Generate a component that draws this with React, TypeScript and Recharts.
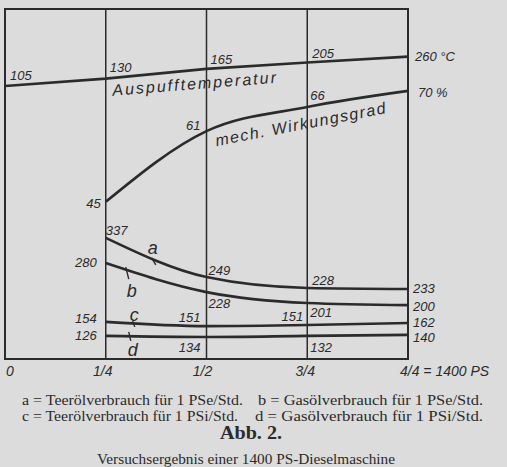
import React from "react";
import {
  ComposedChart,
  Line,
  XAxis,
  YAxis,
  CartesianGrid,
  ReferenceArea,
} from "recharts";

// Load fractions along the x axis (0 … full load = 1400 PS)
const loadSteps = [0, 0.25, 0.5, 0.75, 1];
const xTickLabels = ["0", "1/4", "1/2", "3/4", "4/4 = 1400 PS"];

// Curve heights as drawn in the diagram (schematic, 0 = bottom frame, 100 = top frame)
const tempHeight = [78.0, 80.1, 82.9, 84.7, 86.4];
const effHeight = [null, 44.9, 65.1, 72.0, 76.6];
const aHeight = [null, 34.6, 23.4, 20.3, 20.0];
const bHeight = [null, 27.4, 19.1, 16.0, 15.4];
const cHeight = [null, 10.6, 9.4, 9.7, 10.3];
const dHeight = [null, 6.6, 6.3, 6.6, 6.9];

// Values written next to the curves
const tempLabels = ["105", "130", "165", "205", "260 °C"];
const effLabels = [null, "45", "61", "66", "70 %"];
const aLabels = [null, "337", "249", "228", "233"];
const bLabels = [null, "280", "228", "201", "200"];
const cLabels = [null, "154", "151", "151", "162"];
const dLabels = [null, "126", "134", "132", "140"];

const seriesNames = {
  temp: "Auspufftemperatur",
  eff: "mech. Wirkungsgrad",
  a: "a",
  b: "b",
  c: "c",
  d: "d",
};

const captionLine1 = ["a = Teerölverbrauch für 1 PSe/Std.", "b = Gasölverbrauch für 1 PSe/Std."];
const captionLine2 = ["c = Teerölverbrauch für 1 PSi/Std.", "d = Gasölverbrauch für 1 PSi/Std."];
const figTitle = "Abb. 2.";
const figSubtitle = "Versuchsergebnis einer 1400 PS-Dieselmaschine";

const data = loadSteps.map((x, i) => ({
  x,
  temp: tempHeight[i],
  eff: effHeight[i],
  a: aHeight[i],
  b: bHeight[i],
  c: cHeight[i],
  d: dHeight[i],
}));

const INK = "#2b2b2b";
const BG = "#dcdcdc";
const LETTER_FONT = "'Liberation Sans', Arial, sans-serif";
const SERIF = "'Liberation Serif', 'Times New Roman', serif";

type Off = { dx: number; dy: number; anchor?: "start" | "end" | "middle" } | null;

const tempOff: Off[] = [
  { dx: 5, dy: -6 },
  { dx: 4, dy: -7 },
  { dx: 4, dy: -5 },
  { dx: 5, dy: -5 },
  { dx: 7, dy: 4 },
];
const effOff: Off[] = [
  null,
  { dx: -5, dy: 6, anchor: "end" },
  { dx: -6, dy: -1, anchor: "end" },
  { dx: 3, dy: -7 },
  { dx: 10, dy: 6 },
];
const aOff: Off[] = [null, { dx: 0, dy: -3 }, { dx: 2, dy: -2 }, { dx: 5, dy: -3 }, { dx: 5, dy: 4 }];
const bOff: Off[] = [
  null,
  { dx: -9, dy: 4, anchor: "end" },
  { dx: 2, dy: 16 },
  { dx: 3, dy: 14 },
  { dx: 5, dy: 6 },
];
const cOff: Off[] = [
  null,
  { dx: -9, dy: 1, anchor: "end" },
  { dx: -6, dy: -4, anchor: "end" },
  { dx: -4, dy: -4, anchor: "end" },
  { dx: 5, dy: 4 },
];
const dOff: Off[] = [
  null,
  { dx: -9, dy: 4, anchor: "end" },
  { dx: -6, dy: 15, anchor: "end" },
  { dx: 3, dy: 16 },
  { dx: 5, dy: 7 },
];

type NameStyle = {
  index: number;
  dx: number;
  dy: number;
  rotate: number;
  size: number;
  length?: number;
  tick?: [number, number, number, number];
};

const nameStyles: Record<string, NameStyle> = {
  temp: { index: 1, dx: 7, dy: 17, rotate: -4.5, size: 16, length: 164 },
  eff: { index: 2, dx: 10, dy: 15, rotate: -11, size: 16, length: 173 },
  a: { index: 1, dx: 42, dy: 16, rotate: 0, size: 18, tick: [46, 20, 50, 27] },
  b: { index: 1, dx: 21, dy: 34, rotate: 0, size: 18, tick: [20, 4, 23, 16] },
  c: { index: 1, dx: 24, dy: -1, rotate: 0, size: 18, tick: [27, -1, 29, 5] },
  d: { index: 1, dx: 22, dy: 20, rotate: 0, size: 18, tick: [23, -4, 25, 5] },
};

const makeDot = (key: string, labels: (string | null)[], offs: Off[]) => (props: any) => {
  const { cx, cy, index } = props;
  if (cx == null || cy == null || Number.isNaN(cy)) return <g key={`${key}-${index}`} />;
  const lab = labels[index];
  const o = offs[index];
  const ns = nameStyles[key];
  const name = (seriesNames as any)[key];
  return (
    <g key={`${key}-${index}`}>
      {lab && o && (
        <text
          x={cx + o.dx}
          y={cy + o.dy}
          textAnchor={o.anchor || "start"}
          fontFamily={LETTER_FONT}
          fontStyle="italic"
          fontSize={13}
          fill={INK}
        >
          {lab}
        </text>
      )}
      {ns && ns.index === index && (
        <g>
          <text
            x={cx + ns.dx}
            y={cy + ns.dy}
            transform={`rotate(${ns.rotate} ${cx + ns.dx} ${cy + ns.dy})`}
            fontFamily={LETTER_FONT}
            fontStyle="italic"
            fontSize={ns.size}
            textLength={ns.length}
            lengthAdjust={ns.length ? "spacing" : undefined}
            fill={INK}
          >
            {name}
          </text>
          {ns.tick && (
            <line
              x1={cx + ns.tick[0]}
              y1={cy + ns.tick[1]}
              x2={cx + ns.tick[2]}
              y2={cy + ns.tick[3]}
              stroke={INK}
              strokeWidth={1.4}
            />
          )}
        </g>
      )}
    </g>
  );
};

const XTick = (props: any) => {
  const { x, y, index } = props;
  const cfg = [
    { dx: 5, anchor: "middle" },
    { dx: -3, anchor: "middle" },
    { dx: -4, anchor: "middle" },
    { dx: -2, anchor: "middle" },
    { dx: -8, anchor: "start" },
  ][index] || { dx: 0, anchor: "middle" };
  return (
    <text
      x={x + cfg.dx}
      y={y + 17}
      textAnchor={cfg.anchor as any}
      fontFamily={LETTER_FONT}
      fontStyle="italic"
      fontSize={14}
      fill={INK}
    >
      {xTickLabels[index]}
    </text>
  );
};

export default function App() {
  const lineCommon = {
    stroke: INK,
    strokeWidth: 2.6,
    isAnimationActive: false,
    activeDot: false as any,
    connectNulls: false,
  };
  return (
    <div
      style={{
        position: "absolute",
        left: 0,
        top: 0,
        width: 507,
        height: 467,
        background: BG,
        overflow: "hidden",
      }}
    >
      <ComposedChart
        width={507}
        height={380}
        data={data}
        margin={{ top: 9, right: 99, bottom: 0, left: 5 }}
      >
        <XAxis
          dataKey="x"
          type="number"
          domain={[0, 1]}
          ticks={loadSteps}
          interval={0}
          tickLine={false}
          axisLine={false}
          tickSize={0}
          tickMargin={0}
          height={21}
          tick={<XTick />}
        />
        <YAxis type="number" domain={[0, 100]} hide />
        <CartesianGrid horizontal={false} vertical stroke={INK} strokeWidth={1.5} />
        <ReferenceArea
          x1={0}
          x2={1}
          y1={0}
          y2={100}
          fill="none"
          fillOpacity={0}
          stroke={INK}
          strokeWidth={2}
        />
        <Line dataKey="temp" type="linear" {...lineCommon} dot={makeDot("temp", tempLabels, tempOff)} />
        <Line dataKey="eff" type="monotone" {...lineCommon} dot={makeDot("eff", effLabels, effOff)} />
        <Line dataKey="a" type="monotone" {...lineCommon} dot={makeDot("a", aLabels, aOff)} />
        <Line dataKey="b" type="monotone" {...lineCommon} dot={makeDot("b", bLabels, bOff)} />
        <Line dataKey="c" type="monotone" {...lineCommon} dot={makeDot("c", cLabels, cOff)} />
        <Line dataKey="d" type="monotone" {...lineCommon} dot={makeDot("d", dLabels, dOff)} />
      </ComposedChart>
      <svg
        width={507}
        height={90}
        style={{ position: "absolute", left: 0, top: 380 }}
      >
        <g fontFamily={SERIF} fontSize={15} fill={INK}>
          <text x={22} y={25} textLength={221} lengthAdjust="spacingAndGlyphs">
            {captionLine1[0]}
          </text>
          <text x={258} y={25} textLength={225} lengthAdjust="spacingAndGlyphs">
            {captionLine1[1]}
          </text>
          <text x={22} y={41} textLength={216} lengthAdjust="spacingAndGlyphs">
            {captionLine2[0]}
          </text>
          <text x={255} y={41} textLength={228} lengthAdjust="spacingAndGlyphs">
            {captionLine2[1]}
          </text>
          <text
            x={220}
            y={59}
            fontWeight="bold"
            fontSize={19}
            textLength={62}
            lengthAdjust="spacingAndGlyphs"
          >
            {figTitle}
          </text>
          <text x={97} y={84} textLength={298} lengthAdjust="spacingAndGlyphs">
            {figSubtitle}
          </text>
        </g>
      </svg>
    </div>
  );
}
